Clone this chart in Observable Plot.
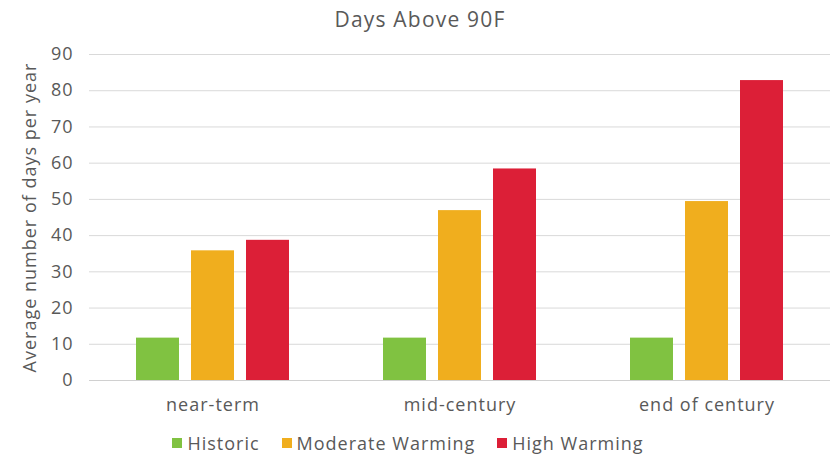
<!DOCTYPE html>
<html>
<head>
<meta charset="utf-8">
<script src="https://cdn.jsdelivr.net/npm/d3@7"></script>
<script src="https://cdn.jsdelivr.net/npm/@observablehq/plot@0.6"></script>
<style>
  body { margin: 0; background: #fff; font-family: "Open Sans", sans-serif; color: #595959; }
  #wrap { width: 840px; height: 456px; position: relative; }
  #title { height: 36px; line-height: 38px; text-align: center; font-size: 21px; letter-spacing: 1.2px; color: #595959; }
  #legend { display: flex; justify-content: center; align-items: center; height: 31px; padding-top: 2px; font-size: 18px; letter-spacing: 1px; color: #595959; padding-right: 24px; }
  .item { display: flex; align-items: center; margin: 0 11px; }
  .sw { width: 10px; height: 10px; margin-right: 5px; }
</style>
</head>
<body>
<div id="wrap">
  <div id="title">Days Above 90F</div>
  <div id="chart"></div>
  <div id="legend"></div>
</div>
<script>
const categories = ["near-term", "mid-century", "end of century"];
const series = ["Historic", "Moderate Warming", "High Warming"];
const historic = [11.7, 11.7, 11.7];
const moderate = [35.8, 46.9, 49.4];
const high = [38.7, 58.4, 82.8];
const colors = ["#80c241", "#f0ae1e", "#dc1f37"];
const yTicks = [0, 10, 20, 30, 40, 50, 60, 70, 80, 90];

const seriesValues = [historic, moderate, high];
const data = [];
categories.forEach((c, i) => {
  series.forEach((s, j) => data.push({category: c, series: s, value: seriesValues[j][i]}));
});

const chart = Plot.plot({
  width: 840,
  height: 389,
  marginTop: 18,
  marginBottom: 45,
  marginLeft: 88,
  marginRight: 10,
  style: {fontFamily: "Open Sans, sans-serif", fontSize: "18px", letterSpacing: "1px", color: "#595959", background: "white"},
  fx: {domain: categories, padding: 0, label: null, axis: "bottom", tickSize: 0, tickPadding: 18},
  x: {domain: series, paddingInner: 0.22, paddingOuter: 0.84, axis: null},
  y: {domain: [0, 90], ticks: yTicks, tickSize: 0, tickPadding: 16, label: "Average number of days per year", labelAnchor: "center", labelOffset: 66, labelArrow: "none"},
  color: {domain: series, range: colors},
  marks: [
    Plot.gridY(yTicks, {stroke: "#d9d9d9", strokeOpacity: 1}),
    Plot.barY(data, {fx: "category", x: "series", y: "value", fill: "series"}),
    Plot.ruleY([0], {stroke: "#d0d0d0"})
  ]
});
document.getElementById("chart").appendChild(chart);

const legend = document.getElementById("legend");
series.forEach((s, i) => {
  const it = document.createElement("div");
  it.className = "item";
  const sw = document.createElement("div");
  sw.className = "sw";
  sw.style.background = colors[i];
  const t = document.createElement("span");
  t.textContent = s;
  it.appendChild(sw); it.appendChild(t);
  legend.appendChild(it);
});
</script>
</body>
</html>
